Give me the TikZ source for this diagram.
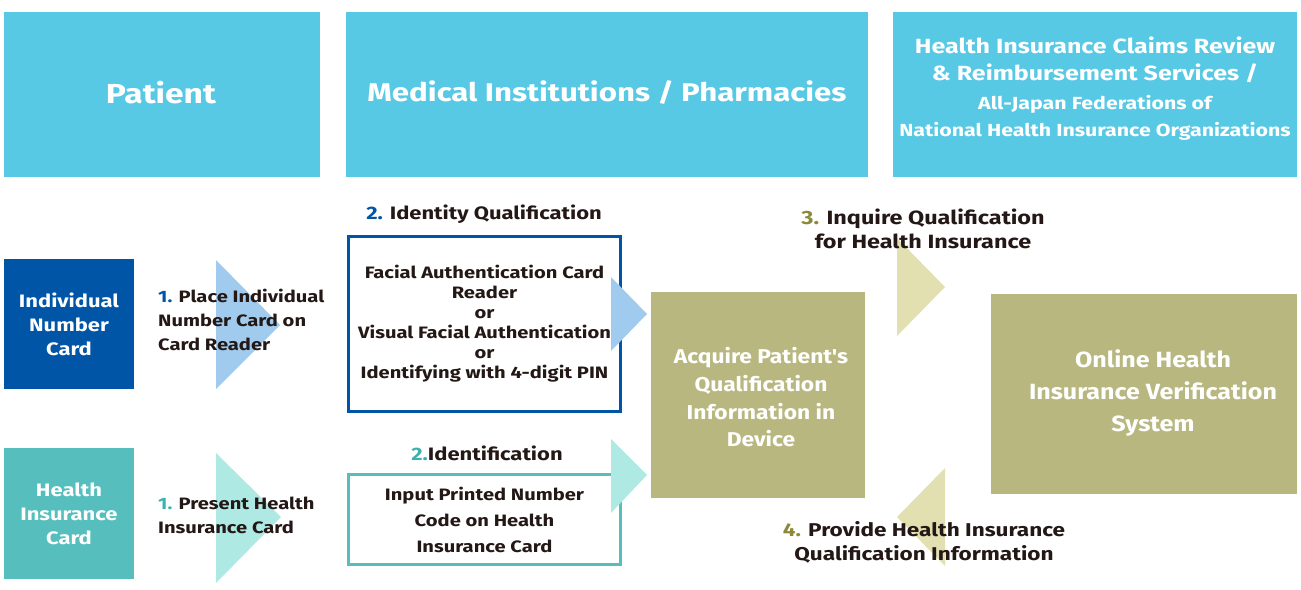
\documentclass[tikz,border=0pt]{standalone}
\usepackage{fontspec}
\setmainfont{Fira Sans}[FakeStretch=1.22]
\newfontfamily\condfont{Fira Sans}[FakeStretch=1.14]
\definecolor{hdr}{HTML}{57C9E5}
\definecolor{dblue}{HTML}{0055A6}
\definecolor{tealc}{HTML}{56BFBE}
\definecolor{tealn}{HTML}{3BB2AE}
\definecolor{lblue}{HTML}{A0CBEE}
\definecolor{lteal}{HTML}{AEE9E4}
\definecolor{oliveb}{HTML}{B8B780}
\definecolor{lolive}{HTML}{E2E0B1}
\definecolor{numolive}{HTML}{8C8A3A}
\definecolor{ink}{HTML}{231815}
\tikzset{
  hdrbox/.style={fill=hdr, text=white, inner sep=0, align=center, font=\bfseries},
  cardbox/.style={inner sep=0, text=white, align=center, minimum width=130, minimum height=130, font=\bfseries\fontsize{18}{24}\selectfont},
  framebox/.style={fill=white, line width=2.5pt, inner sep=0, text=ink, align=center, font=\bfseries\fontsize{16.5}{20}\selectfont},
  olivebox/.style={fill=oliveb, inner sep=0},
  olivetext/.style={inner sep=0, text=white, align=center},
  steptext/.style={inner sep=0, text=ink, font=\bfseries\fontsize{16.5}{24}\selectfont},
}
\begin{document}
\begin{tikzpicture}[x=1pt,y=-1pt]
\useasboundingbox (0,0) rectangle (1301,589);
% headers
\node[hdrbox, minimum width=316, minimum height=165] (pat) at (162,94.5) {};
\node[inner sep=0, text=white, font=\bfseries\fontsize{27.5}{32}\selectfont] (patT) at (161,93) {Patient};
\node[hdrbox, minimum width=522, minimum height=165] (med) at (607,94.5) {};
\node[inner sep=0, text=white, font=\bfseries\fontsize{25.6}{32}\selectfont] (medT) at (607,92) {Medical Institutions / Pharmacies};
\node[hdrbox, minimum width=404, minimum height=165] (rev) at (1095,94.5) {};
\node[inner sep=0, text=white, align=center, font=\bfseries\fontsize{20.5}{27}\selectfont] (revA) at (1095,59.5) {Health Insurance Claims Review\\\& Reimbursement Services /};
\node[inner sep=0, text=white, align=center, font=\bfseries\fontsize{17.5}{27}\selectfont] (revB) at (1095,117.5) {All-Japan Federations of\\National Health Insurance Organizations};
% cards
\node[cardbox, fill=dblue] (inc) at (69,324) {Individual\\Number\\Card};
\node[cardbox, fill=tealc, minimum height=131] (hic) at (69,513.5) {Health\\Insurance\\Card};
% chevrons step 1
\fill[lblue] (216,260) -- (280,325) -- (216,389) -- cycle;
\fill[lteal] (216,453) -- (281,517) -- (216,583) -- cycle;
\node[steptext, anchor=west, align=left] (s1a) at (158,320) {\textcolor{dblue}{1.} Place Individual\\Number Card on\\Card Reader};
\node[steptext, anchor=west, align=left] (s1b) at (158,515) {\textcolor{tealn}{1.} Present Health\\Insurance Card};
% step 2
\node[steptext, font=\bfseries\fontsize{18}{24}\selectfont] (l2a) at (484,214) {\textcolor{dblue}{2.} Identity Qualification};
\node[framebox, draw=dblue, minimum width=272, minimum height=175] (fa) at (484.5,324) {Facial Authentication Card\\Reader\\or\\Visual Facial Authentication\\or\\Identifying with 4-digit PIN};
\node[steptext, font=\bfseries\fontsize{18}{24}\selectfont] (l2b) at (487,453) {\textcolor{tealn}{2.}Identification};
\node[framebox, draw=tealc, minimum width=272, minimum height=90, font=\bfseries\fontsize{16.5}{26}\selectfont] (ip) at (484.5,519.5) {Input Printed Number\\Code on Health\\Insurance Card};
\fill[lblue] (611,277) -- (647,314) -- (611,351) -- cycle;
\fill[lteal] (611,439) -- (647,475) -- (611,513) -- cycle;
% olive boxes
\node[olivebox, minimum width=214, minimum height=206] (acq) at (758,395) {};
\node[olivetext, font=\condfont\bfseries\fontsize{20}{27.7}\selectfont] (acqT) at (761,397.5) {Acquire Patient's\\Qualification\\Information in\\Device};
\node[olivebox, minimum width=306, minimum height=200] (onl) at (1144,394) {};
\node[olivetext, font=\condfont\bfseries\fontsize{22}{32}\selectfont] (onlT) at (1153,393) {Online Health\\Insurance Verification\\System};
% olive chevrons
\fill[lolive] (897,238) -- (945,287) -- (897,336) -- cycle;
\fill[lolive] (945,468) -- (897,517) -- (945,566) -- cycle;
\node[steptext, align=center, font=\bfseries\fontsize{19.2}{24}\selectfont] (l3) at (923,229) {\textcolor{numolive}{3.} Inquire Qualification\\for Health Insurance};
\node[steptext, align=center, font=\bfseries\fontsize{18.5}{24}\selectfont] (l4) at (924,542) {\textcolor{numolive}{4.} Provide Health Insurance\\Qualification Information};
\end{tikzpicture}
\end{document}
